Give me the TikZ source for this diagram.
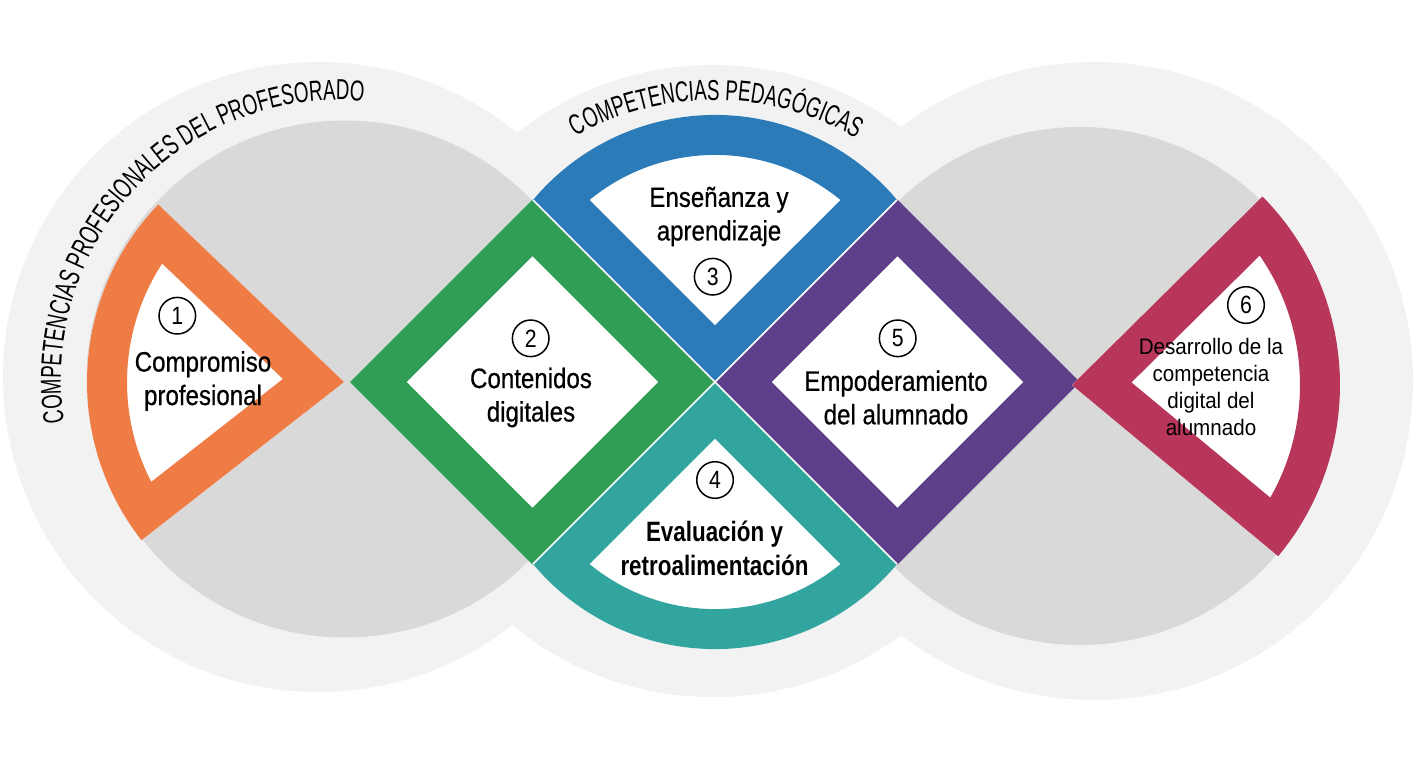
\documentclass[tikz,border=0pt]{standalone}
\usepackage{fontspec}
\usetikzlibrary{decorations.text}
\newfontfamily\arcfont[FakeStretch=0.65]{Liberation Sans}
\newfontfamily\medfont[FakeStretch=0.86,FakeBold=0.6]{Liberation Sans}
\newfontfamily\labfont[FakeStretch=0.80]{Liberation Sans}
\newfontfamily\sixfont[FakeStretch=0.92]{Liberation Sans}
\newfontfamily\numfont[FakeStretch=0.85]{Liberation Sans}
\newcommand\arcsty{\arcfont\fontsize{14.4}{16}\selectfont}
\definecolor{cOrange}{HTML}{EF7B45}
\definecolor{cGreen}{HTML}{319E55}
\definecolor{cBlue}{HTML}{2B7BB9}
\definecolor{cTeal}{HTML}{33A59F}
\definecolor{cPurple}{HTML}{5D4089}
\definecolor{cCrimson}{HTML}{B83659}
\definecolor{lightg}{HTML}{F2F2F2}
\definecolor{darkg}{HTML}{D9D9D9}
\newcommand\dbband[2]{\begin{scope}\clip #2;\fill[white] #2;\draw[#1,line width=40pt,line join=miter] #2;\end{scope}}
\begin{document}
\begin{tikzpicture}[x=0.5pt,y=-0.5pt,
  medlab/.style={align=center,inner sep=0pt,font=\medfont\fontsize{14}{16.75}\selectfont},
  boldlab/.style={align=center,inner sep=0pt,font=\labfont\bfseries\fontsize{14}{16.75}\selectfont},
  sixlab/.style={align=center,inner sep=0pt,font=\sixfont\fontsize{11.2}{13.5}\selectfont},
  num/.style={circle,draw=black,line width=0.75pt,minimum size=18.3pt,inner sep=0pt,font=\numfont\fontsize{12.5}{12.5}\selectfont},
  sep/.style={white,line width=0.8pt}]
\useasboundingbox (0,0) rectangle (1415,768);
\fill[white] (0,0) rectangle (1415,768);
% centres
\coordinate (oL) at (318,377);
\coordinate (oM) at (713,381);
\coordinate (oR) at (1094,381);
\coordinate (iL) at (345,379);
\coordinate (iR) at (1080,386);
\coordinate (tL) at (340,379);
\coordinate (tM) at (714,381);
% outer rings
\fill[lightg] (oL) circle[radius=315];
\fill[lightg] (oM) circle[radius=316];
\fill[lightg] (oR) circle[radius=319];
\fill[darkg] (iL) circle[radius=258.5];
\fill[darkg] (iR) circle[radius=259];
% ring labels
\path[decorate,decoration={text along path,text align=center,
  text={|\arcsty|COMPETENCIAS PROFESIONALES DEL PROFESORADO}}]
  ([shift={(158:279)}]tL) arc[start angle=158,end angle=288,radius=279];
\path[decorate,decoration={text along path,text align=center,
  text={|\arcsty|COMPETENCIAS PEDAGÓGICAS}}]
  ([shift={(230.5:281)}]tM) arc[start angle=230.5,end angle=310.5,radius=281];
% coloured areas
\dbband{cOrange}{(344,382) -- ++(142:257) arc[start angle=142,end angle=223.7,radius=257] -- cycle}
\dbband{cGreen}{(350,382) -- (532.5,199.5) -- (715,382) -- (532.5,564.5) -- cycle}
\dbband{cPurple}{(715,382) -- (897.5,199.5) -- (1080,382) -- (897.5,564.5) -- cycle}
\dbband{cCrimson}{(1072,385) -- ++(-44.7:268) arc[start angle=-44.7,end angle=39.7,radius=268] -- cycle}
\dbband{cBlue}{(715,382) -- (533,200) arc[start angle=-140.1,end angle=-39.9,radius=237.3] -- cycle}
\dbband{cTeal}{(715,382) -- (533,564) arc[start angle=140.1,end angle=39.9,radius=237.3] -- cycle}
\draw[sep] (533,200) -- (715,382) -- (897,200);
\draw[sep] (533,564) -- (715,382) -- (897,564);
% labels
\node[medlab] (t1) at (203,381) {Compromiso\\profesional};
\node[medlab] (t2) at (531,397.5) {Contenidos\\digitales};
\node[medlab] (t3) at (719,216.5) {Enseñanza y\\aprendizaje};
\node[boldlab] (t4) at (714.5,548.5) {Evaluación y\\retroalimentación};
\node[medlab] (t5) at (896,397.5) {Empoderamiento\\del alumnado};
\node[sixlab] (t6) at (1211,386.5) {Desarrollo de la\\competencia\\digital del\\alumnado};
\node[num] (n1) at (177.3,315.7) {1};
\node[num] (n2) at (530.7,338.3) {2};
\node[num] (n3) at (712.7,276.7) {3};
\node[num] (n4) at (715,480) {4};
\node[num] (n5) at (897.7,338.3) {5};
\node[num] (n6) at (1246,305) {6};
\end{tikzpicture}
\end{document}
